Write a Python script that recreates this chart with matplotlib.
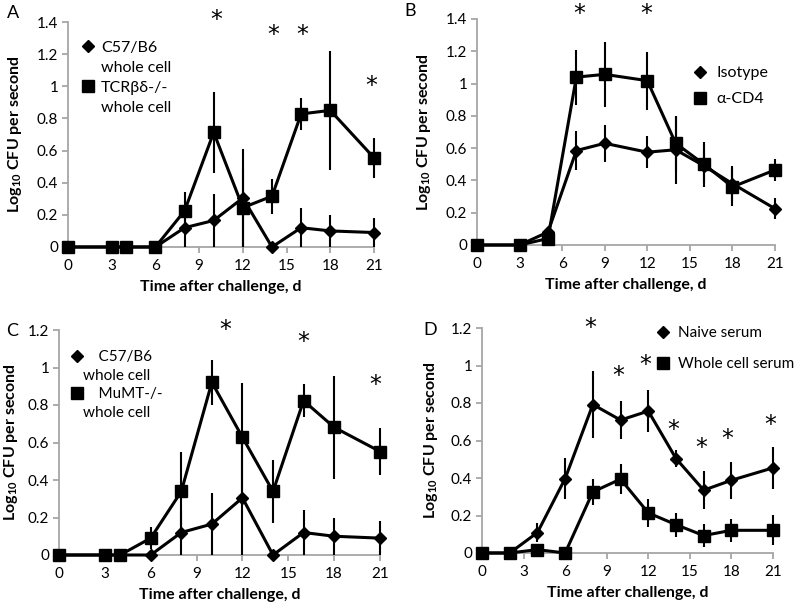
import matplotlib
matplotlib.use("Agg")
import matplotlib.pyplot as plt
from matplotlib.lines import Line2D

plt.rcParams['font.family'] = ['Lato', 'DejaVu Sans']
plt.rcParams['mathtext.default'] = 'regular'

# ---------------- Panel A ----------------
a_days = [0, 3, 4, 6, 8, 10, 12, 14, 16, 18, 21]
a_wt = [0, 0, 0, 0, 0.12, 0.165, 0.305, 0, 0.12, 0.10, 0.09]
a_wt_err = [0, 0, 0, 0, 0.12, 0.165, 0.305, 0, 0.12, 0.10, 0.09]
a_ko = [0, 0, 0, 0, 0.225, 0.713, 0.245, 0.316, 0.828, 0.85, 0.555]
a_ko_err = [0, 0, 0, 0, 0.12, 0.25, 0.24, 0.11, 0.10, 0.37, 0.125]
a_star_x = [10.2, 14.1, 16.1, 20.8]
a_star_y = [1.45, 1.36, 1.36, 1.04]
a_labels = ["C57/B6\nwhole cell", "TCRβδ-/-\nwhole cell"]

# ---------------- Panel B ----------------
b_days = [0, 3, 5, 7, 9, 12, 14, 16, 18, 21]
b_iso = [0, 0, 0.08, 0.585, 0.63, 0.575, 0.59, 0.49, 0.38, 0.225]
b_iso_err = [0, 0, 0, 0.12, 0.115, 0.10, 0.21, 0.10, 0.11, 0.065]
b_cd4 = [0, 0, 0.04, 1.04, 1.057, 1.018, 0.63, 0.50, 0.36, 0.465]
b_cd4_err = [0, 0, 0, 0.17, 0.20, 0.18, 0.17, 0.14, 0.12, 0.07]
b_star_x = [7.2, 11.9]
b_star_y = [1.47, 1.47]
b_labels = ["Isotype", "α-CD4"]

# ---------------- Panel C ----------------
c_days = [0, 3, 4, 6, 8, 10, 12, 14, 16, 18, 21]
c_wt = [0, 0, 0, 0, 0.12, 0.165, 0.305, 0, 0.12, 0.10, 0.09]
c_wt_err = [0, 0, 0, 0, 0.12, 0.165, 0.305, 0, 0.12, 0.10, 0.09]
c_ko = [0, 0, 0, 0.09, 0.339, 0.921, 0.628, 0.339, 0.823, 0.681, 0.552]
c_ko_err = [0, 0, 0, 0.06, 0.21, 0.12, 0.29, 0.17, 0.088, 0.275, 0.124]
c_star_x = [10.85, 16.0, 20.7]
c_star_y = [1.235, 1.17, 0.94]
c_labels = ["    C57/B6\nwhole cell", "    MuMT-/-\nwhole cell"]

# ---------------- Panel D ----------------
d_days = [0, 2, 4, 6, 8, 10, 12, 14, 16, 18, 21]
d_naive = [0, 0, 0.109, 0.397, 0.792, 0.709, 0.757, 0.504, 0.335, 0.388, 0.454]
d_naive_err = [0, 0, 0.05, 0.11, 0.18, 0.10, 0.11, 0.045, 0.10, 0.10, 0.11]
d_wc = [0, 0, 0.018, 0, 0.326, 0.394, 0.214, 0.151, 0.093, 0.121, 0.121]
d_wc_err = [0, 0, 0, 0, 0.07, 0.08, 0.075, 0.065, 0.06, 0.06, 0.08]
d_star_x = [7.8, 9.8, 11.8, 13.8, 15.8, 17.7, 20.8]
d_star_y = [1.234, 0.976, 1.038, 0.691, 0.593, 0.641, 0.718]
d_labels = ["Naive serum", "Whole cell serum"]

xticks = [0, 3, 6, 9, 12, 15, 18, 21]

W, H = 796, 603
fig = plt.figure(figsize=(W / 100, H / 100), dpi=100)


def make_ax(l, r, t, b):
    return fig.add_axes([l / W, 1 - b / H, (r - l) / W, (b - t) / H])


SPINE = '#a6a6a6'
FS = 11


def style(ax, ymax, yticks, yticklabels, ylpad=9):
    ax.set_xlim(0, 21)
    ax.set_ylim(0, ymax)
    ax.set_xticks(xticks)
    ax.set_xticklabels([str(v) for v in xticks], fontsize=FS)
    ax.set_yticks(yticks)
    ax.set_yticklabels(yticklabels, fontsize=FS)
    for s in ['top', 'right']:
        ax.spines[s].set_visible(False)
    for s in ['left', 'bottom']:
        ax.spines[s].set_color(SPINE)
        ax.spines[s].set_linewidth(1.3)
    ax.tick_params(axis='both', direction='out', length=4, width=1.3, color=SPINE)
    ax.tick_params(axis='x', pad=5)
    ax.tick_params(axis='y', pad=3)
    ax.set_xlabel("Time after challenge, d", fontsize=11.5, fontweight='bold', labelpad=5)
    ax.set_ylabel("Log$_{10}$ CFU per second", fontsize=11.5, fontweight='bold', labelpad=ylpad)


def series(ax, x, y, e, marker, ms):
    ax.errorbar(x, y, yerr=e, color='black', lw=2.2, elinewidth=1.5, capsize=0,
                marker=marker, ms=ms, mfc='black', mec='black', clip_on=False, zorder=3)


STAR_FS = 17


def stars(ax, xs, ys):
    for x, y in zip(xs, ys):
        ax.annotate("*", (x, y), xytext=(0, -0.56 * STAR_FS), textcoords='offset points',
                    fontsize=STAR_FS, ha='center', va='baseline',
                    family='DejaVu Sans', annotation_clip=False)


def legend(ax, labels, split, anchor, fs, spacing, hl, tpad):
    handles, texts = [], []
    mk = [dict(marker='D', ms=6), dict(marker='s', ms=9)]
    for i, lab in enumerate(labels):
        parts = lab.split("\n") if split else [lab]
        handles.append(Line2D([], [], ls='none', color='black', **mk[i]))
        texts.append(parts[0])
        for p in parts[1:]:
            handles.append(Line2D([], [], ls='none', marker='none'))
            texts.append(p)
    ax.legend(handles, texts, loc='upper left', bbox_to_anchor=anchor, frameon=False,
              fontsize=fs, handlelength=hl, handletextpad=tpad,
              labelspacing=spacing, borderaxespad=0, borderpad=0)


# A
axA = make_ax(68, 374, 22, 247)
style(axA, 1.4, [0, 0.2, 0.4, 0.6, 0.8, 1.0, 1.2, 1.4],
      ["0", "0.2", "0.4", "0.6", "0.8", "1", "1.2", "1.4"])
series(axA, a_days, a_wt, a_wt_err, 'D', 6)
series(axA, a_days, a_ko, a_ko_err, 's', 9)
stars(axA, a_star_x, a_star_y)
legend(axA, a_labels, True, (0.044, 0.916), 11.5, 0.36, 0.8, 0.42)

# B
axB = make_ax(477, 775, 19, 245)
style(axB, 1.4, [0, 0.2, 0.4, 0.6, 0.8, 1.0, 1.2, 1.4],
      ["0", "0.2", "0.4", "0.6", "0.8", "1", "1.2", "1.4"])
series(axB, b_days, b_iso, b_iso_err, 'D', 6)
series(axB, b_days, b_cd4, b_cd4_err, 's', 9)
stars(axB, b_star_x, b_star_y)
legend(axB, b_labels, False, (0.727, 0.792), 11.5, 0.75, 0.8, 0.6)

# C
axC = make_ax(59, 380, 330, 555)
style(axC, 1.2, [0, 0.2, 0.4, 0.6, 0.8, 1.0, 1.2],
      ["0", "0.2", "0.4", "0.6", "0.8", "1", "1.2"], ylpad=6)
series(axC, c_days, c_wt, c_wt_err, 'D', 6)
series(axC, c_days, c_ko, c_ko_err, 's', 9)
stars(axC, c_star_x, c_star_y)
legend(axC, c_labels, True, (0.039, 0.911), 11, 0.3, 0.7, 0.05)

# D
axD = make_ax(482, 773, 328, 553)
style(axD, 1.2, [0, 0.2, 0.4, 0.6, 0.8, 1.0, 1.2],
      ["0", "0.2", "0.4", "0.6", "0.8", "1", "1.2"], ylpad=8)
series(axD, d_days, d_naive, d_naive_err, 'D', 6)
series(axD, d_days, d_wc, d_wc_err, 's', 9)
stars(axD, d_star_x, d_star_y)
legend(axD, d_labels, False, (0.601, 1.008), 11, 1.1, 0.8, 0.58)

# panel letters
for lab, (x, y) in zip("ABCD", [(7, 13), (404, 11), (6, 331), (423, 330)]):
    fig.text(x / W, 1 - y / H, lab, fontsize=13, ha='left', va='center')

fig.savefig("out.png", dpi=100)
